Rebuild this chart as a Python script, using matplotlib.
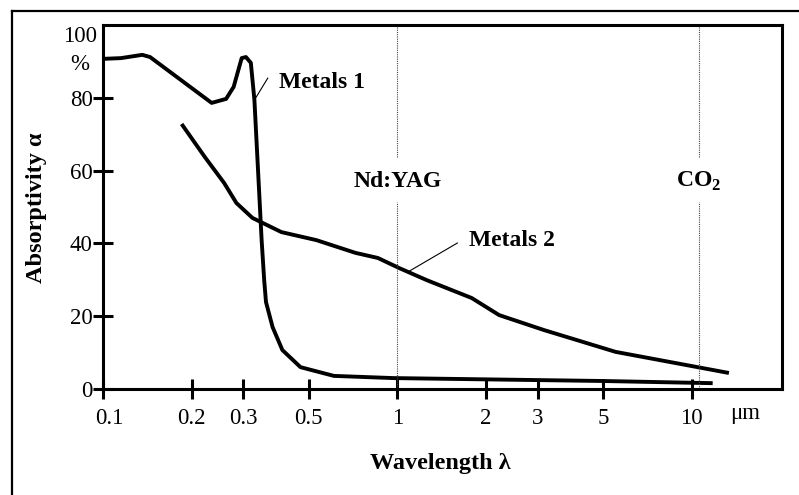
import matplotlib
matplotlib.use("Agg")
import matplotlib.pyplot as plt
import matplotlib.transforms as mtransforms
from matplotlib.lines import Line2D
from matplotlib.ticker import FixedLocator, NullLocator

# ---- data ----
metals1_x = [0.1, 0.115, 0.136, 0.1445, 0.234, 0.262, 0.278, 0.296, 0.306, 0.318,
             0.327, 0.346, 0.353, 0.358, 0.377, 0.407, 0.469, 0.609, 0.97, 5.0, 11.8]
metals1_y = [90.7, 90.9, 91.8, 91.2, 78.6, 79.7, 83.0, 90.9, 91.2, 89.6,
             79.4, 40.9, 29.9, 23.9, 17.0, 10.7, 6.0, 3.6, 3.0, 2.2, 1.6]

metals2_x = [0.185, 0.222, 0.258, 0.284, 0.322, 0.404, 0.531, 0.721, 0.859, 1.017,
             1.26, 1.79, 2.22, 3.15, 5.52, 13.4]
metals2_y = [72.8, 63.7, 56.6, 51.1, 47.0, 43.1, 40.9, 37.4, 36.0, 33.2,
             29.9, 25.0, 20.3, 16.2, 10.2, 4.4]

laser_x = [1.0, 10.6]
laser_names = ["Nd:YAG", r"CO$_\mathbf{2}$"]

xtick_vals = [0.1, 0.2, 0.3, 0.5, 1, 2, 3, 5, 10]
xtick_labels = ["0.1", "0.2", "0.3", "0.5", "1", "2", "3", "5", "10"]
ytick_vals = [0, 20, 40, 60, 80]
ytick_labels = ["0", "20", "40", "60", "80"]

plt.rcParams["font.family"] = ["Liberation Serif", "DejaVu Serif"]
plt.rcParams["mathtext.fontset"] = "custom"
plt.rcParams["mathtext.rm"] = "Liberation Serif"
plt.rcParams["mathtext.bf"] = "Liberation Serif:bold"

W, H = 799, 495
fig = plt.figure(figsize=(W / 100, H / 100), dpi=100)
ax = fig.add_axes([103 / W, 1 - 389 / H, (782 - 103) / W, (389 - 25) / H])

ax.set_xscale("log")
ax.set_xlim(0.1, 20.3)
ax.set_ylim(0, 100)

lw = 2.8
ax.plot(metals1_x, metals1_y, color="black", lw=lw, solid_joinstyle="round",
        solid_capstyle="butt", clip_on=False)
ax.plot(metals2_x, metals2_y, color="black", lw=lw, solid_joinstyle="round",
        solid_capstyle="butt", clip_on=False)

# laser wavelength markers (dotted, broken around the label)
for xv, name in zip(laser_x, laser_names):
    ax.plot([xv, xv], [0, 51.4], color="#444444", lw=0.8, ls=(0, (1, 1)))
    ax.plot([xv, xv], [63.7, 100], color="#444444", lw=0.8, ls=(0, (1, 1)))
    ax.text(xv, 56.9, name, ha="center", va="center", fontsize=17,
            fontweight="bold")

# annotations: labels with thin pointer lines
ax.plot([0.327, 0.363], [79.4, 85.4], color="black", lw=0.8)
ax.text(0.396, 84.3, "Metals 1", fontsize=17, fontweight="bold",
        ha="left", va="center")
ax.plot([1.10, 1.60], [32.4, 40.1], color="black", lw=0.8)
ax.text(1.75, 40.9, "Metals 2", fontsize=17, fontweight="bold",
        ha="left", va="center")

# ticks
ax.xaxis.set_major_locator(FixedLocator(xtick_vals))
ax.set_xticklabels(xtick_labels)
ax.xaxis.set_minor_locator(NullLocator())
ax.set_yticks(ytick_vals)
ax.set_yticklabels(ytick_labels)
ax.tick_params(axis="both", direction="inout", length=15, width=2.2,
               labelsize=16.5, color="black")
ax.tick_params(axis="y", pad=0)
ax.tick_params(axis="x", pad=6)
first = ax.get_xticklabels()[0]
first.set_transform(first.get_transform() +
                    mtransforms.ScaledTranslation(6 / 100, 0, fig.dpi_scale_trans))

for sp in ax.spines.values():
    sp.set_linewidth(2.2)
    sp.set_color("black")

ax.text(97 / W, 1 - 37 / H, "100", transform=fig.transFigure, ha="right",
        va="center", fontsize=16.5)
ax.text(80 / W, 1 - 65 / H, "%", transform=fig.transFigure, ha="center",
        va="center", fontsize=16.5)
ax.text(745 / W, 1 - 413 / H, "μm", transform=fig.transFigure, ha="center",
        va="center", fontsize=16.5)

fig.text(440 / W, 1 - 463 / H, "Wavelength λ", ha="center", va="center",
         fontsize=17.5, fontweight="bold")
fig.text(37 / W, 1 - 208 / H, "Absorptivity α", ha="center", va="center",
         fontsize=17.5, fontweight="bold", rotation=90)

# outer frame
fig.add_artist(Line2D([12 / W, 12 / W], [0, 1 - 11 / H], color="black", lw=1.6,
                      transform=fig.transFigure))
fig.add_artist(Line2D([12 / W, 1], [1 - 11 / H, 1 - 11 / H], color="black",
                      lw=1.6, transform=fig.transFigure))

fig.savefig("out.png", dpi=100)
